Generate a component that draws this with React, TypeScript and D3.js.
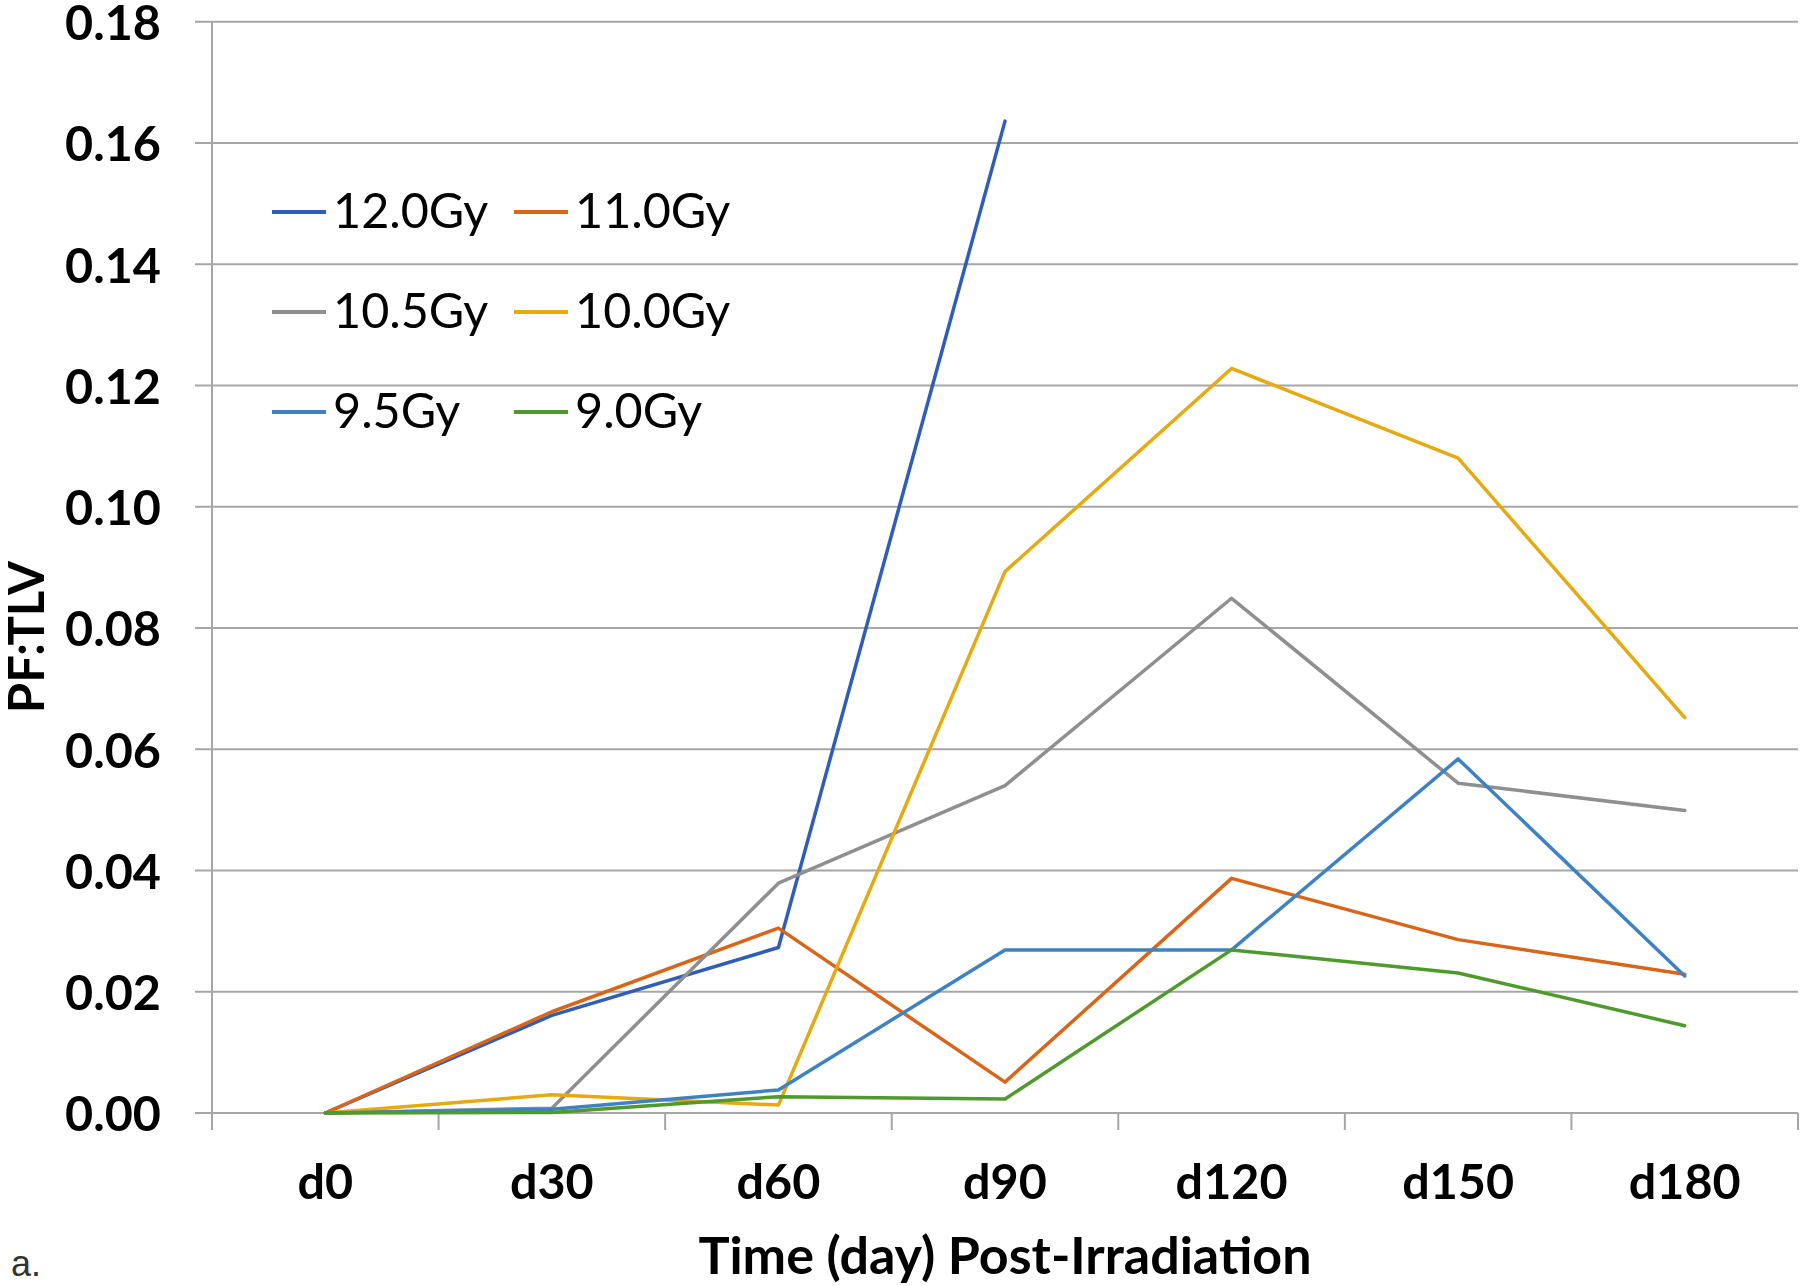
import React from "react";
import * as d3 from "d3";

const categories = ["d0", "d30", "d60", "d90", "d120", "d150", "d180"];
const yTicks = [0, 0.02, 0.04, 0.06, 0.08, 0.1, 0.12, 0.14, 0.16, 0.18];

const seriesNames = ["12.0Gy", "11.0Gy", "10.5Gy", "10.0Gy", "9.5Gy", "9.0Gy"];
const seriesColors = ["#2F5DB7", "#D8661A", "#8F8F8F", "#E6AA10", "#3F82C4", "#4E9A2C"];

const s12_0: (number | null)[] = [0, 0.0161, 0.0273, 0.1636, null, null, null];
const s11_0: (number | null)[] = [0, 0.0167, 0.0305, 0.0051, 0.0387, 0.0286, 0.0229];
const s10_5: (number | null)[] = [0, 0.0008, 0.0379, 0.054, 0.0849, 0.0544, 0.0499];
const s10_0: (number | null)[] = [0, 0.003, 0.0013, 0.0893, 0.1228, 0.108, 0.0652];
const s9_5: (number | null)[] = [0, 0.0006, 0.0038, 0.0269, 0.0269, 0.0584, 0.0226];
const s9_0: (number | null)[] = [0, 0.0001, 0.0027, 0.0023, 0.0269, 0.0231, 0.0144];

const seriesValues = [s12_0, s11_0, s10_5, s10_0, s9_5, s9_0];

const W = 1800;
const H = 1286;
const left = 212;
const right = 1798;
const top = 21.7;
const bottom = 1113;

export default function App() {
  const x = d3.scaleBand<string>().domain(categories).range([left, right]).padding(0);
  const y = d3.scaleLinear().domain([0, 0.18]).range([bottom, top]);
  const cx = (c: string) => (x(c) as number) + x.bandwidth() / 2;

  const line = d3
    .line<[string, number | null]>()
    .defined((d) => d[1] !== null)
    .x((d) => cx(d[0]))
    .y((d) => y(d[1] as number));

  const boundaries = categories.map((c) => x(c) as number).concat([right]);
  const gridColor = "#A6A6A6";
  const font = "Lato, 'Open Sans', sans-serif";

  const legendX0 = 272;
  const legendColGap = 242;
  const legendY0 = 212;
  const legendRowGap = 100;

  return (
    <svg width={W} height={H} style={{ position: "absolute", left: 0, top: 0, background: "#fff" }}>
      <rect x={0} y={0} width={W} height={H} fill="#fff" />
      {yTicks.map((t) => (
        <line key={t} x1={left - 17} x2={right} y1={y(t)} y2={y(t)} stroke={gridColor} strokeWidth={2} />
      ))}
      <line x1={left} x2={left} y1={y(0.18)} y2={bottom} stroke={gridColor} strokeWidth={2} />
      {boundaries.map((b, i) => (
        <line key={i} x1={b} x2={b} y1={bottom} y2={bottom + 17} stroke={gridColor} strokeWidth={2} />
      ))}
      {yTicks.map((t) => (
        <text
          key={t}
          x={161}
          y={y(t)}
          dy="0.38em"
          textAnchor="end"
          fontFamily={font}
          fontWeight={700}
          fontSize={48.5}
          fill="#000"
        >
          {t.toFixed(2)}
        </text>
      ))}
      {categories.map((c) => (
        <text key={c} x={cx(c)} y={1199} textAnchor="middle" fontFamily={font} fontWeight={700} fontSize={48.5} fill="#000">
          {c}
        </text>
      ))}
      {seriesValues.map((vals, i) => (
        <path
          key={seriesNames[i]}
          d={line(categories.map((c, j) => [c, vals[j]] as [string, number | null])) || ""}
          fill="none"
          stroke={seriesColors[i]}
          strokeWidth={3.5}
          strokeLinejoin="round"
          strokeLinecap="round"
        />
      ))}
      {seriesNames.map((n, i) => {
        const col = i % 2;
        const row = Math.floor(i / 2);
        const lx = legendX0 + col * legendColGap;
        const ly = legendY0 + row * legendRowGap;
        return (
          <g key={n}>
            <line x1={lx} x2={lx + 54} y1={ly} y2={ly} stroke={seriesColors[i]} strokeWidth={4} />
            <text x={lx + 61} y={ly + 16} fontFamily={font} fontSize={48.5} fill="#000">
              {n}
            </text>
          </g>
        );
      })}
      <text x={(left + right) / 2} y={1274} textAnchor="middle" fontFamily={font} fontWeight={700} fontSize={52} fill="#000">
        Time (day) Post-Irradiation
      </text>
      <text
        transform={`translate(44,637) rotate(-90)`}
        textAnchor="middle"
        fontFamily={font}
        fontWeight={700}
        fontSize={49}
        fill="#000"
      >
        PF:TLV
      </text>
      <text x={11} y={1276} fontFamily="'Liberation Sans', Arial, sans-serif" fontSize={36} fill="#333">
        a.
      </text>
    </svg>
  );
}
